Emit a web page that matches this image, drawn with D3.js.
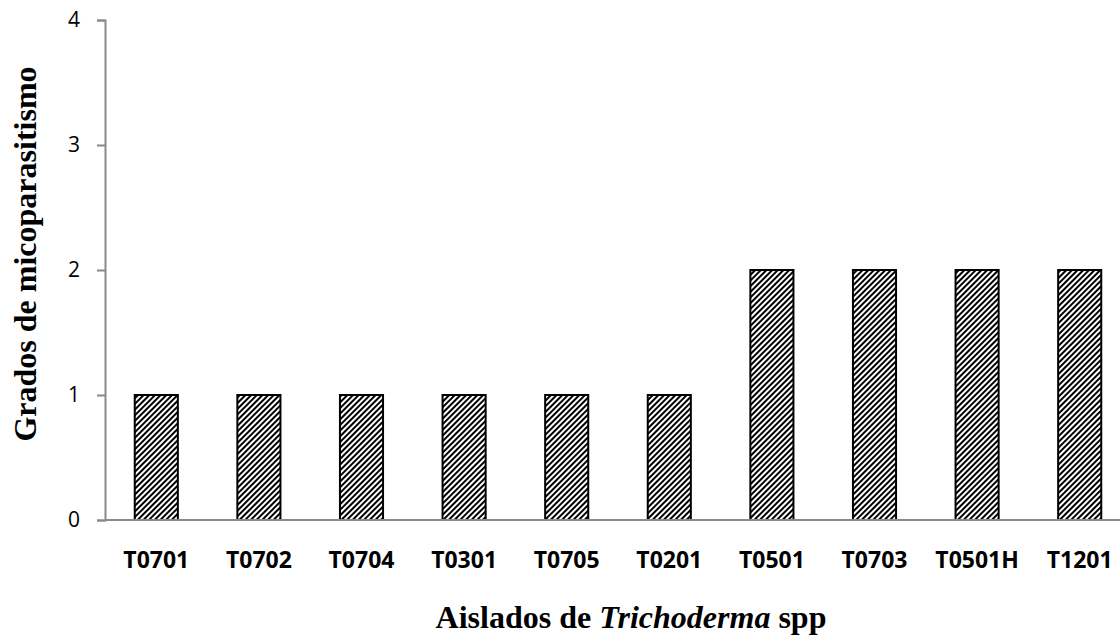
<!DOCTYPE html>
<html>
<head>
<meta charset="utf-8">
<script src="https://cdn.jsdelivr.net/npm/d3@7"></script>
<style>
  body { margin: 0; background: #fff; }
  svg { display: block; }
</style>
</head>
<body>
<script>
// data
var isolates = ["T0701","T0702","T0704","T0301","T0705","T0201","T0501","T0703","T0501H","T1201"];
var grades = [1, 1, 1, 1, 1, 1, 2, 2, 2, 2];
var yTicks = [0, 1, 2, 3, 4];

var width = 1120, height = 635;
var margin = {top: 20, right: -11, bottom: 115, left: 105};

var svg = d3.select("body").append("svg")
    .attr("width", width)
    .attr("height", height);

// hatch pattern
var defs = svg.append("defs");
var pat = defs.append("pattern")
    .attr("id", "hatch")
    .attr("patternUnits", "userSpaceOnUse")
    .attr("width", 4)
    .attr("height", 4)
    .attr("patternTransform", "rotate(45)");
pat.append("rect").attr("width", 4).attr("height", 4).attr("fill", "#fff");
pat.append("rect").attr("x", 0).attr("width", 2).attr("height", 4).attr("fill", "#000");

var x = d3.scaleBand()
    .domain(isolates)
    .range([margin.left, width - margin.right])
    .paddingInner(0.58)
    .paddingOuter(0.29);

var y = d3.scaleLinear()
    .domain([0, 4])
    .range([height - margin.bottom, margin.top]);

// bars
svg.selectAll(".bar")
    .data(grades)
    .enter().append("rect")
    .attr("class", "bar")
    .attr("x", function(d, i){ return x(isolates[i]); })
    .attr("y", function(d){ return y(d); })
    .attr("width", x.bandwidth())
    .attr("height", function(d){ return y(0) - y(d); })
    .attr("fill", "url(#hatch)")
    .attr("stroke", "#000")
    .attr("stroke-width", 2);

// y axis
var yAxis = svg.append("g")
    .attr("transform", "translate(" + margin.left + ",0)")
    .call(d3.axisLeft(y).tickValues(yTicks).tickFormat(d3.format("d")).tickSize(8).tickPadding(17));
yAxis.select(".domain").attr("stroke", "#898989").attr("stroke-width", 2);
yAxis.selectAll(".tick line").attr("stroke", "#898989").attr("stroke-width", 2);
yAxis.selectAll(".tick text")
    .style("font-family", "'Open Sans', sans-serif")
    .style("font-size", "21px")
    .attr("fill", "#000");

// x axis
svg.append("line")
    .attr("x1", margin.left)
    .attr("x2", width)
    .attr("y1", y(0))
    .attr("y2", y(0))
    .attr("stroke", "#898989")
    .attr("stroke-width", 2);

svg.selectAll(".xlab")
    .data(isolates)
    .enter().append("text")
    .attr("class", "xlab")
    .attr("x", function(d){ return x(d) + x.bandwidth() / 2; })
    .attr("y", y(0) + 48)
    .attr("text-anchor", "middle")
    .style("font-family", "'Open Sans', sans-serif")
    .style("font-weight", "bold")
    .style("font-size", "23px")
    .text(function(d){ return d; });

// titles
svg.append("text")
    .attr("transform", "translate(36,254) rotate(-90)")
    .attr("text-anchor", "middle")
    .style("font-family", "'Liberation Serif', 'Times New Roman', serif")
    .style("font-weight", "bold")
    .style("font-size", "32px")
    .text("Grados de micoparasitismo");

var xt = svg.append("text")
    .attr("x", 631)
    .attr("y", 628)
    .attr("text-anchor", "middle")
    .style("font-family", "'Liberation Serif', 'Times New Roman', serif")
    .style("font-weight", "bold")
    .style("font-size", "32px");
xt.append("tspan").text("Aislados de ");
xt.append("tspan").style("font-style", "italic").text("Trichoderma");
xt.append("tspan").text(" spp");
</script>
</body>
</html>
